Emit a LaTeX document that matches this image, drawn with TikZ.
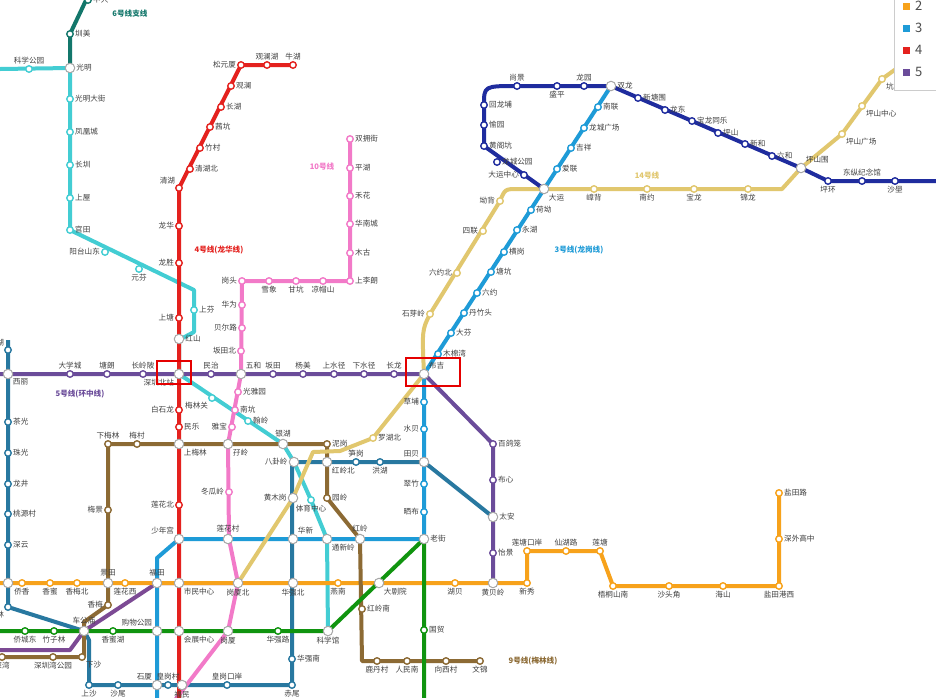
\documentclass[tikz,border=0pt]{standalone}
\usepackage{fontspec}
\setmainfont{Noto Sans CJK SC}
\definecolor{cA}{HTML}{F7A21B}
\definecolor{cB}{HTML}{1E9BD7}
\definecolor{cC}{HTML}{E4211E}
\definecolor{cD}{HTML}{6B4C9A}
\definecolor{cE}{HTML}{43CDD3}
\definecolor{cF}{HTML}{13776B}
\definecolor{cG}{HTML}{2878A0}
\definecolor{cH}{HTML}{8C6A34}
\definecolor{cI}{HTML}{10940F}
\definecolor{cJ}{HTML}{F27AC8}
\definecolor{cK}{HTML}{E1C76E}
\definecolor{cL}{HTML}{1F2C9E}
\definecolor{cM}{HTML}{7C4A94}
\newcommand\stn[4]{\node[st,draw=#1,label={[lb]#3:#4}] at (#2) {};}
\newcommand\xc[3]{\node[xs,label={[lb]#2:#3}] at (#1) {};}
\begin{document}
\begin{tikzpicture}[x=1pt,y=-1pt,
  ln/.style={line width=4pt,line join=round},
  st/.style={circle,fill=white,line width=1.4pt,inner sep=0pt,minimum size=6.5pt},
  xs/.style={circle,fill=white,draw=gray!70,line width=1pt,inner sep=0pt,minimum size=9.5pt},
  lb/.style={font=\fontsize{7.6}{8}\selectfont,text=black!75,inner sep=1pt,label distance=0pt},
  tl/.style={font=\fontsize{7.6}{8}\selectfont\bfseries}]
\useasboundingbox (0,0) rectangle (936,697);
\fill[white] (0,0) rectangle (936,697);
% lines
\draw[ln,cF] (88,-4)--(70,34)--(70,68);
\draw[ln,cE] (0,69)--(70,68)--(70,230)--(194,290)--(194,332)--(179,340)--(179,374)--(283,444)--(294,462)--(311,500)--(327,539)--(328,631);
\draw[ln,cM] (238,583)--(157,583)--(84,631)--(70,650)--(0,650);
\draw[ln,cA] (0,583)--(527,583)--(527,551)--(600,551)--(613,586)--(779,586)--(779,493);
\draw[ln,cG] (8,340)--(8,607)--(84,631)--(89,640)--(89,685)--(292,685)--(292,462)--(424,462)--(493,517);
\draw[ln,cH] (108,444)--(327,444)--(327,498)--(360,539)--(362,661)--(480,661);
\draw[ln,cH] (108,444)--(108,605)--(84,622)--(84,657)--(0,657);
\draw[ln,cI] (0,631)--(328,631)--(424,539)--(424,700);
\draw[ln,cB] (611,86)--(424,374)--(424,539)--(179,539)--(157,558)--(157,700);
\draw[ln,cJ] (350,139)--(350,281)--(242,281)--(241,374)--(228,444)--(229,539)--(238,583)--(228,631)--(175,700);
\draw[ln,cK] (950,30)--(882,79)--(842,134)--(801,168)--(782,189)--(518,189) .. controls (505,189) .. (500,201)--(430,314) .. controls (422,330) .. (424,374)--(373,438)--(340,451)--(313,452)--(293,498)--(238,583);
\draw[ln,cL] (544,189)--(484,146)--(484,105) .. controls (484,86) .. (517,86)--(611,86)--(801,168)--(828,181)--(940,181);
\draw[ln,cC] (293,65)--(241,65)--(179,188)--(179,700);
\draw[ln,cD] (0,374)--(424,374)--(493,444)--(493,583);
% line 6 branch
\stn{cF}{88,0}{right}{中大}
\stn{cF}{70,34}{right}{圳美}
% line 6
\stn{cE}{29,69}{above}{科学公园}
\xc{70,68}{right}{光明}
\stn{cE}{70,99}{right}{光明大街}
\stn{cE}{70,132}{right}{凤凰城}
\stn{cE}{70,165}{right}{长圳}
\stn{cE}{70,198}{right}{上屋}
\stn{cE}{70,230}{right}{官田}
\stn{cE}{105,252}{left}{阳台山东}
\stn{cE}{139,269}{below}{元芬}
\stn{cE}{194,310}{right}{上芬}
\xc{179,339}{right}{红山}
\stn{cE}{212,398}{below left}{梅林关}
\stn{cE}{248,421}{right}{翰岭}
\xc{283,444}{above}{银湖}
\stn{cE}{311,500}{below}{体育中心}
% line 4
\stn{cC}{293,65}{above}{牛湖}
\stn{cC}{267,65}{above}{观澜湖}
\stn{cC}{241,65}{left}{松元厦}
\stn{cC}{231,86}{right}{观澜}
\stn{cC}{221,107}{right}{长湖}
\stn{cC}{210,127}{right}{茜坑}
\stn{cC}{200,148}{right}{竹村}
\stn{cC}{190,169}{right}{清湖北}
\stn{cC}{179,188}{above left}{清湖}
\stn{cC}{179,226}{left}{龙华}
\stn{cC}{179,263}{left}{龙胜}
\stn{cC}{179,318}{left}{上塘}
\xc{179,374}{below left}{深圳北站}
\stn{cC}{179,410}{left}{白石龙}
\stn{cC}{179,427}{right}{民乐}
\xc{179,444}{below right}{上梅林}
\stn{cC}{179,505}{left}{莲花北}
\xc{179,539}{above left}{少年宫}
\xc{179,583}{below right}{市民中心}
\xc{179,631}{below right}{会展中心}
% line 5
\xc{8,374}{below right}{西丽}
\stn{cD}{70,374}{above}{大学城}
\stn{cD}{107,374}{above}{塘朗}
\stn{cD}{143,374}{above}{长岭陂}
\stn{cD}{211,374}{above}{民治}
\xc{241,374}{above right}{五和}
\stn{cD}{273,374}{above}{坂田}
\stn{cD}{303,374}{above}{杨美}
\stn{cD}{334,374}{above}{上水径}
\stn{cD}{364,374}{above}{下水径}
\stn{cD}{394,374}{above}{长龙}
\xc{424,374}{above right}{布吉}
\stn{cD}{493,444}{right}{百鸽笼}
\stn{cD}{493,480}{right}{布心}
\xc{493,517}{right}{太安}
\stn{cD}{493,553}{right}{怡景}
\xc{493,583}{below}{黄贝岭}
% line 2
\xc{8,583}{left}{}
\stn{cA}{22,583}{below}{侨香}
\stn{cA}{50,583}{below}{香蜜}
\stn{cA}{77,583}{below}{香梅北}
\xc{108,583}{above}{景田}
\stn{cA}{125,583}{below}{莲花西}
\xc{157,583}{above}{福田}
\xc{238,583}{below}{岗厦北}
\xc{293,583}{below}{华强北}
\stn{cA}{338,583}{below}{燕南}
\xc{379,583}{below right}{大剧院}
\stn{cA}{455,583}{below}{湖贝}
\stn{cA}{527,583}{below}{新秀}
\stn{cA}{527,551}{above}{莲塘口岸}
\stn{cA}{566,551}{above}{仙湖路}
\stn{cA}{600,551}{above}{莲塘}
\stn{cA}{613,586}{below}{梧桐山南}
\stn{cA}{669,586}{below}{沙头角}
\stn{cA}{723,586}{below}{海山}
\stn{cA}{779,586}{below}{盐田港西}
\stn{cA}{779,539}{right}{深外高中}
\stn{cA}{779,493}{right}{盐田路}
% line 7
\stn{cG}{8,350}{above left}{西丽湖}
\stn{cG}{8,422}{right}{茶光}
\stn{cG}{8,453}{right}{珠光}
\stn{cG}{8,484}{right}{龙井}
\stn{cG}{8,514}{right}{桃源村}
\stn{cG}{8,545}{right}{深云}
\stn{cG}{8,607}{below left}{农林}
\xc{84,631}{above}{车公庙}
\stn{cG}{89,685}{below}{上沙}
\stn{cG}{118,685}{below}{沙尾}
\xc{157,685}{above left}{石厦}
\stn{cG}{168,685}{above}{皇岗村}
\xc{182,685}{below}{福民}
\stn{cG}{227,685}{above}{皇岗口岸}
\stn{cG}{292,685}{below}{赤尾}
\stn{cG}{292,659}{right}{华强南}
\xc{293,539}{above right}{华新}
\xc{293,498}{left}{黄木岗}
\xc{294,462}{left}{八卦岭}
\xc{327,462}{below right}{红岭北}
\stn{cG}{356,462}{above}{笋岗}
\stn{cG}{380,462}{below}{洪湖}
\xc{424,462}{above left}{田贝}
% line 9
\stn{cH}{108,444}{above}{下梅林}
\stn{cH}{137,444}{above}{梅村}
\xc{228,444}{below right}{孖岭}
\stn{cH}{327,444}{right}{泥岗}
\stn{cH}{327,498}{right}{园岭}
\xc{360,539}{above}{红岭}
\stn{cH}{362,609}{right}{红岭南}
\stn{cH}{377,661}{below}{鹿丹村}
\stn{cH}{407,661}{below}{人民南}
\stn{cH}{446,661}{below}{向西村}
\stn{cH}{480,661}{below}{文锦}
\stn{cH}{108,510}{left}{梅景}
\stn{cH}{108,605}{left}{香梅}
\stn{cH}{82,657}{below right}{下沙}
\stn{cH}{53,657}{below}{深圳湾公园}
\stn{cH}{2,657}{below}{深湾}
% line 1
\stn{cI}{25,631}{below}{侨城东}
\stn{cI}{54,631}{below}{竹子林}
\stn{cI}{113,631}{below}{香蜜湖}
\xc{157,631}{above left}{购物公园}
\xc{228,631}{below}{岗厦}
\stn{cI}{278,631}{below}{华强路}
\xc{328,631}{below}{科学馆}
\xc{424,539}{right}{老街}
\stn{cI}{424,630}{right}{国贸}
% line 3
\stn{cB}{598,107}{right}{南联}
\stn{cB}{584,128}{right}{龙城广场}
\stn{cB}{571,148}{right}{吉祥}
\stn{cB}{557,169}{right}{爱联}
\xc{544,189}{below right}{大运}
\stn{cB}{531,210}{right}{荷坳}
\stn{cB}{517,230}{right}{永湖}
\stn{cB}{504,252}{right}{横岗}
\stn{cB}{491,272}{right}{塘坑}
\stn{cB}{477,293}{right}{六约}
\stn{cB}{464,313}{right}{丹竹头}
\stn{cB}{451,333}{right}{大芬}
\stn{cB}{438,354}{right}{木棉湾}
\stn{cB}{424,402}{left}{草埔}
\stn{cB}{424,429}{left}{水贝}
\stn{cB}{424,484}{left}{翠竹}
\stn{cB}{424,512}{left}{晒布}
\xc{327,539}{below right}{通新岭}
\xc{228,539}{above}{莲花村}
% line 10
\stn{cJ}{350,139}{right}{双拥街}
\stn{cJ}{350,168}{right}{平湖}
\stn{cJ}{350,196}{right}{禾花}
\stn{cJ}{350,224}{right}{华南城}
\stn{cJ}{350,253}{right}{木古}
\stn{cJ}{350,281}{right}{上李朗}
\stn{cJ}{323,281}{below}{凉帽山}
\stn{cJ}{296,281}{below}{甘坑}
\stn{cJ}{269,281}{below}{雪象}
\stn{cJ}{242,281}{left}{岗头}
\stn{cJ}{242,305}{left}{华为}
\stn{cJ}{242,328}{left}{贝尔路}
\stn{cJ}{241,351}{left}{坂田北}
\stn{cJ}{238,392}{right}{光雅园}
\stn{cJ}{235,410}{right}{南坑}
\stn{cJ}{232,427}{left}{雅宝}
\stn{cJ}{229,492}{left}{冬瓜岭}
% line 14
\stn{cK}{882,79}{below right}{坑梓}
\stn{cK}{862,106}{below right}{坪山中心}
\stn{cK}{842,134}{below right}{坪山广场}
\xc{801,168}{above right}{坪山围}
\stn{cK}{748,189}{below}{锦龙}
\stn{cK}{694,189}{below}{宝龙}
\stn{cK}{647,189}{below}{南约}
\stn{cK}{594,189}{below}{嶂背}
\stn{cK}{500,201}{left}{坳背}
\stn{cK}{483,231}{left}{四联}
\stn{cK}{457,273}{left}{六约北}
\stn{cK}{430,314}{left}{石芽岭}
\stn{cK}{373,438}{right}{罗湖北}
% line 16
\stn{cL}{524,175}{left}{大运中心}
\stn{cL}{497,162}{right}{龙城公园}
\stn{cL}{484,146}{right}{黄阁坑}
\stn{cL}{484,125}{right}{愉园}
\stn{cL}{484,105}{right}{回龙埔}
\stn{cL}{517,86}{above}{尚景}
\stn{cL}{557,86}{below}{盛平}
\stn{cL}{584,86}{above}{龙园}
\xc{611,86}{right}{双龙}
\stn{cL}{638,98}{right}{新塘围}
\stn{cL}{665,110}{right}{龙东}
\stn{cL}{692,121}{right}{宝龙同乐}
\stn{cL}{718,133}{right}{坪山}
\stn{cL}{745,144}{right}{新和}
\stn{cL}{772,156}{right}{六和}
\stn{cL}{828,181}{below}{坪环}
\stn{cL}{862,181}{above}{东纵纪念馆}
\stn{cL}{895,181}{below}{沙壆}
% line titles
\node[tl,text=cF] at (130,14) {6号线支线};
\node[tl,text=cC] at (219,250) {4号线(龙华线)};
\node[tl,text=cJ] at (322,167) {10号线};
\node[tl,text=cK] at (647,176) {14号线};
\node[tl,text=cB] at (579,250) {3号线(龙岗线)};
\node[tl,text=cD] at (80,394) {5号线(环中线)};
\node[tl,text=cH] at (533,661) {9号线(梅林线)};
% red boxes
\draw[red!90!black,line width=2pt] (157,361) rectangle (191,384);
\draw[red!90!black,line width=2pt] (406,358) rectangle (460,386);
% legend
\draw[fill=white,draw=gray!40] (894,-2) rectangle (940,90);
\foreach \c/\y/\t in {cA/6/2,cB/28/3,cC/50/4,cD/72/5}{
  \fill[\c] (903,\y-3.5) rectangle (910,\y+4);
  \node[anchor=west,font=\fontsize{13}{13}\selectfont,text=black!70,inner sep=0] at (915,\y) {\t};}
\end{tikzpicture}
\end{document}
